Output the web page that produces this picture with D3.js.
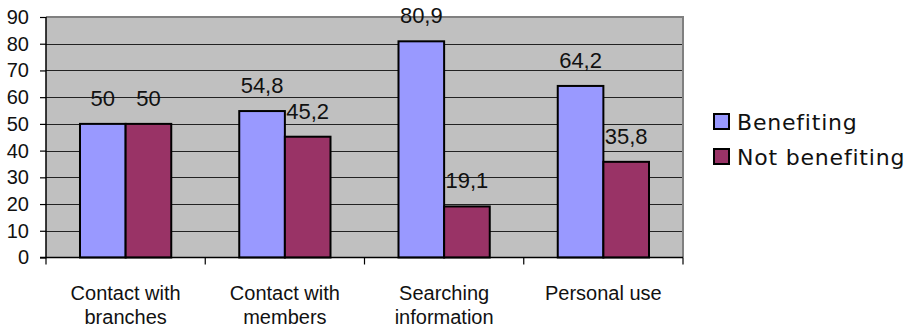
<!DOCTYPE html>
<html>
<head>
<meta charset="utf-8">
<script src="https://cdn.jsdelivr.net/npm/d3@7"></script>
<style>
  html, body { margin: 0; padding: 0; background: #fff; }
  svg { display: block; }
</style>
</head>
<body>
<svg id="chart" width="915" height="328"></svg>
<script>
// Share of respondents benefiting / not benefiting, by use
const categories = [["Contact with", "branches"], ["Contact with", "members"], ["Searching", "information"], ["Personal use"]];
const seriesNames = ["Benefiting", "Not benefiting"];
const benefiting = [50, 54.8, 80.9, 64.2];
const notBenefiting = [50, 45.2, 19.1, 35.8];
const yTicks = [0, 10, 20, 30, 40, 50, 60, 70, 80, 90];
const colors = ["#9999FF", "#993366"];

const svg = d3.select("#chart");
const plot = { left: 46, right: 683, top: 17, bottom: 257.5 };

const x0 = d3.scaleBand().domain(d3.range(categories.length)).range([plot.left, plot.right]).padding(0);
const groupW = x0.bandwidth() * 0.573;
const x1 = d3.scaleBand().domain([0, 1]).range([(x0.bandwidth() - groupW) / 2, (x0.bandwidth() + groupW) / 2]).padding(0);
const y = d3.scaleLinear().domain([0, 90]).range([plot.bottom, plot.top]);

const fmt = v => String(v).replace(".", ",");

// plot background
svg.append("rect")
  .attr("x", plot.left).attr("y", plot.top)
  .attr("width", plot.right - plot.left).attr("height", plot.bottom - plot.top)
  .attr("fill", "#C0C0C0");

// gridlines
svg.append("g").selectAll("line")
  .data(yTicks.filter(t => t > 0 && t < 90))
  .join("line")
  .attr("x1", plot.left).attr("x2", plot.right)
  .attr("y1", d => Math.round(y(d)) + 0.5).attr("y2", d => Math.round(y(d)) + 0.5)
  .attr("stroke", "#222").attr("stroke-width", 1.2);

// top and right frame
svg.append("path")
  .attr("d", `M${plot.left},${plot.top} H${plot.right} V${plot.bottom}`)
  .attr("fill", "none").attr("stroke", "#808080").attr("stroke-width", 2);

// bars
const data = categories.map((c, i) => [benefiting[i], notBenefiting[i]]);
const groups = svg.append("g").selectAll("g")
  .data(data).join("g")
  .attr("transform", (d, i) => `translate(${x0(i)},0)`);

groups.selectAll("rect")
  .data(d => d.map((v, s) => ({ v, s })))
  .join("rect")
  .attr("x", d => x1(d.s))
  .attr("width", x1.bandwidth())
  .attr("y", d => y(d.v))
  .attr("height", d => y(0) - y(d.v))
  .attr("fill", d => colors[d.s])
  .attr("stroke", "#000").attr("stroke-width", 2);

groups.selectAll("text")
  .data(d => d.map((v, s) => ({ v, s })))
  .join("text")
  .attr("x", d => x1(d.s) + x1.bandwidth() / 2)
  .attr("y", d => y(d.v) - 18)
  .attr("text-anchor", "middle")
  .attr("font-family", "Liberation Sans, Arial, sans-serif")
  .attr("font-size", 22)
  .attr("fill", "#111")
  .text(d => fmt(d.v));

// y axis
const yAxis = d3.axisLeft(y).tickValues(yTicks).tickSize(6).tickPadding(11);
const gy = svg.append("g").attr("transform", `translate(${plot.left},0)`).call(yAxis);
gy.select(".domain").attr("stroke", "#000").attr("stroke-width", 1.5).attr("d", `M-6,${plot.bottom}H0V${plot.top}`);
gy.selectAll(".tick line").attr("stroke", "#000").attr("stroke-width", 1.2);
gy.selectAll(".tick text")
  .attr("font-family", "Liberation Sans, Arial, sans-serif")
  .attr("font-size", 20).attr("fill", "#111");

// x axis
const gx = svg.append("g");
gx.append("line")
  .attr("x1", plot.left).attr("x2", plot.right)
  .attr("y1", plot.bottom).attr("y2", plot.bottom)
  .attr("stroke", "#000").attr("stroke-width", 1.5);
gx.selectAll("line.tick")
  .data(d3.range(categories.length + 1))
  .join("line").attr("class", "tick")
  .attr("x1", i => i < categories.length ? x0(i) : plot.right)
  .attr("x2", i => i < categories.length ? x0(i) : plot.right)
  .attr("y1", plot.bottom).attr("y2", plot.bottom + 7)
  .attr("stroke", "#000").attr("stroke-width", 1.2);

const catText = gx.selectAll("text")
  .data(categories).join("text")
  .attr("x", (d, i) => x0(i) + x0.bandwidth() / 2)
  .attr("y", 300)
  .attr("text-anchor", "middle")
  .attr("font-family", "Liberation Sans, Arial, sans-serif")
  .attr("font-size", 20).attr("fill", "#111");
catText.each(function (lines) {
  const t = d3.select(this);
  lines.forEach((ln, k) => {
    t.append("tspan")
      .attr("x", t.attr("x"))
      .attr("dy", k === 0 ? 0 : 23.5)
      .text(ln);
  });
});

// legend
const legend = svg.append("g").attr("transform", "translate(713,113)");
const li = legend.selectAll("g").data(seriesNames).join("g")
  .attr("transform", (d, i) => `translate(0,${i * 35})`);
li.append("rect")
  .attr("x", 1).attr("y", 1).attr("width", 15).attr("height", 15)
  .attr("fill", (d, i) => colors[i])
  .attr("stroke", "#000").attr("stroke-width", 2);
li.append("text")
  .attr("x", 24).attr("y", 17)
  .attr("font-family", "DejaVu Sans, Verdana, sans-serif")
  .attr("font-size", 22)
  .attr("letter-spacing", 0.8)
  .attr("fill", "#111")
  .text(d => d);
</script>
</body>
</html>
